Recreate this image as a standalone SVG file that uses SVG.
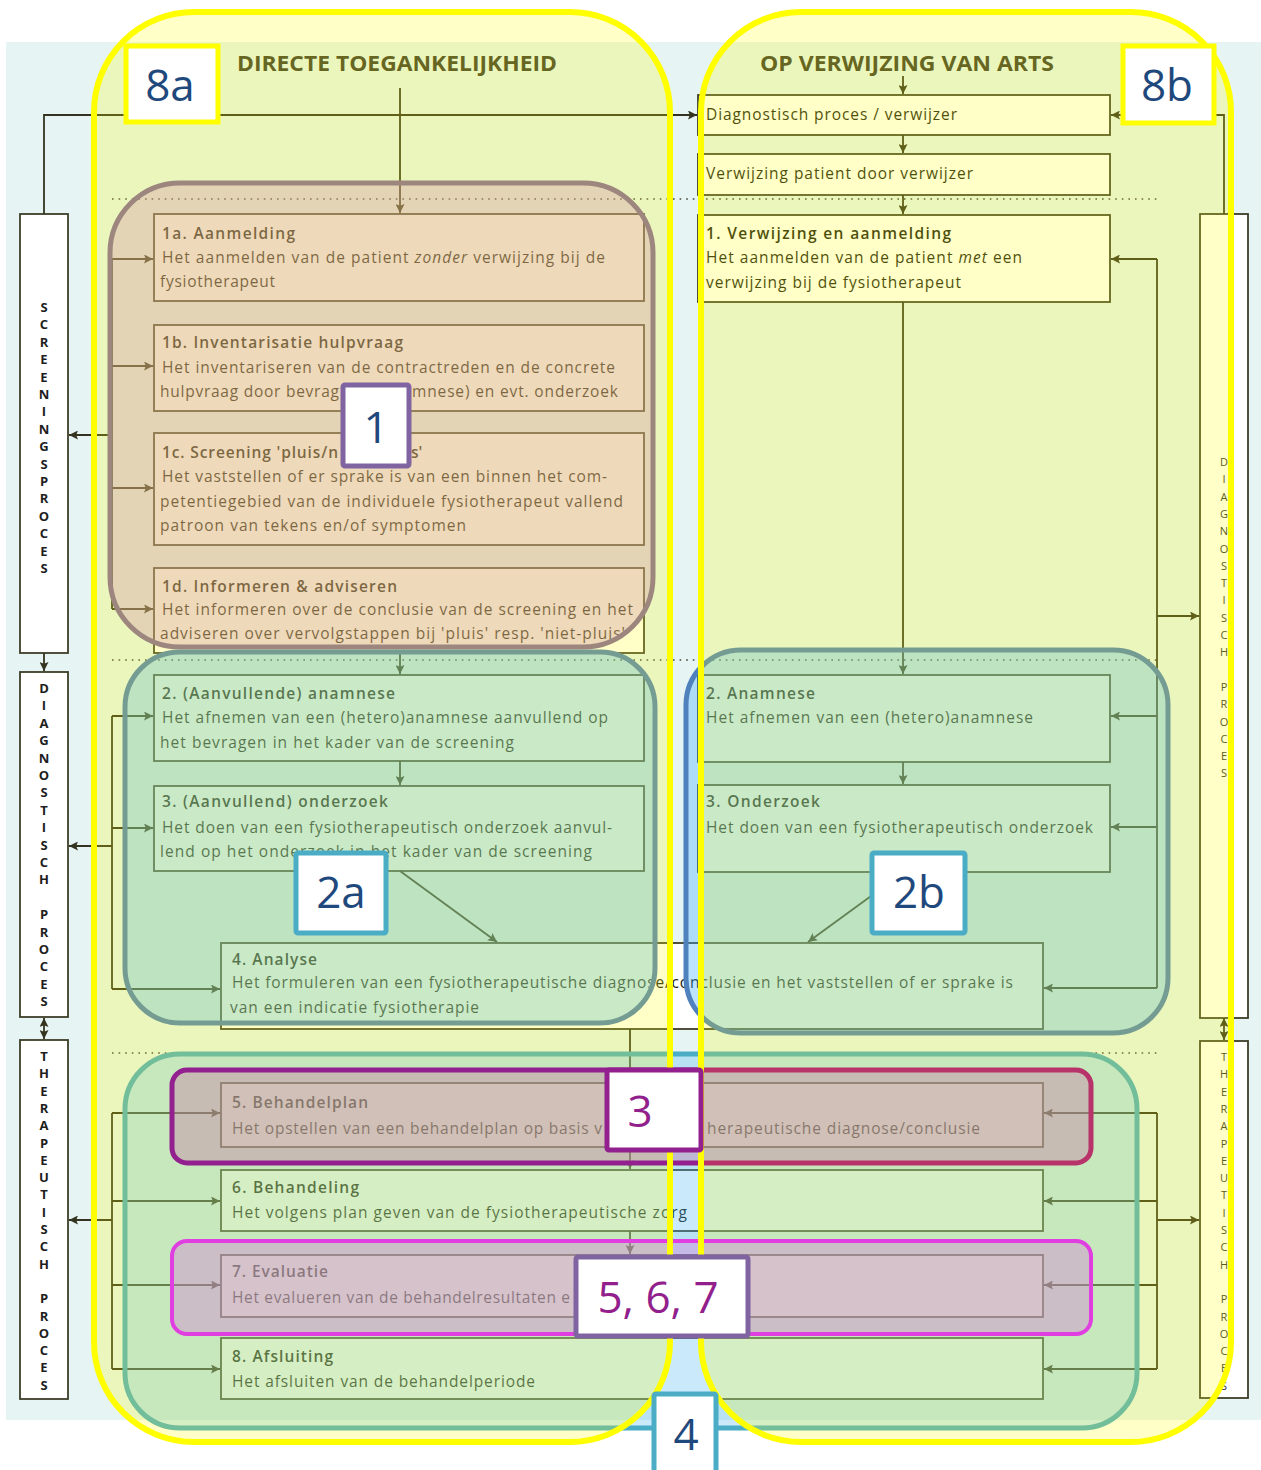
<svg xmlns="http://www.w3.org/2000/svg" width="1261" height="1470" viewBox="0 0 1261 1470">
<style>
.bx{fill:#fff;stroke:#3d3d28;stroke-width:1.8}
.t{font-family:'Open Sans','Liberation Sans',sans-serif;font-size:15.5px;fill:#1c1c12}
.tt{font-weight:600}
.hdr{font-family:'Open Sans','Liberation Sans',sans-serif;font-size:21px;font-weight:700;fill:#3c3c2c}
.vl{font-family:'Open Sans','Liberation Sans',sans-serif;font-size:13px;font-weight:700;fill:#1e1e1e;text-anchor:middle}
.vr{font-family:'Open Sans','Liberation Sans',sans-serif;font-size:11px;fill:#2e2e2e;text-anchor:middle}
.cn{stroke:#33331f;stroke-width:1.8;fill:none}
.dot{stroke:#44443a;stroke-width:1.6;stroke-dasharray:1.6 5;fill:none}
.lbl{font-family:'Open Sans','Liberation Sans',sans-serif;font-size:44px;text-anchor:middle}
.lb{fill:#fff;stroke-width:5}
</style>
<defs>
<marker id="ah" viewBox="0 0 10 10" refX="10" refY="5" markerWidth="9" markerHeight="9" markerUnits="userSpaceOnUse" orient="auto-start-reverse">
<path d="M0,0 L10,5 L0,10 L2,5 z" fill="#33331f"/>
</marker>
<linearGradient id="g3" gradientUnits="userSpaceOnUse" x1="172" y1="0" x2="1091" y2="0">
<stop offset="0" stop-color="#92208f"/><stop offset="0.575" stop-color="#92208f"/><stop offset="0.576" stop-color="#b8336a"/><stop offset="1" stop-color="#b8336a"/>
</linearGradient>
</defs>

<rect x="0" y="0" width="1261" height="1470" fill="#fff"/>
<rect x="6" y="42" width="1255" height="1378" fill="#e6f4f3"/>

<g id="headers">
<text class="hdr" x="237" y="71" textLength="320" lengthAdjust="spacingAndGlyphs">DIRECTE TOEGANKELIJKHEID</text>
<text class="hdr" x="760" y="71" textLength="294" lengthAdjust="spacingAndGlyphs">OP VERWIJZING VAN ARTS</text>
</g>

<g id="separators">
<line class="dot" x1="112" y1="199" x2="1160" y2="199"/>
<line class="dot" x1="112" y1="660" x2="1160" y2="660"/>
<line class="dot" x1="112" y1="1053" x2="1160" y2="1053"/>
</g>

<g id="phase-screening-left">
<rect class="bx" x="20" y="214" width="48" height="439"/>
<text class="vl"><tspan x="44" y="312">S</tspan><tspan x="44" y="329.4">C</tspan><tspan x="44" y="346.8">R</tspan><tspan x="44" y="364.2">E</tspan><tspan x="44" y="381.6">E</tspan><tspan x="44" y="399">N</tspan><tspan x="44" y="416.4">I</tspan><tspan x="44" y="433.8">N</tspan><tspan x="44" y="451.2">G</tspan><tspan x="44" y="468.6">S</tspan><tspan x="44" y="486">P</tspan><tspan x="44" y="503.4">R</tspan><tspan x="44" y="520.8">O</tspan><tspan x="44" y="538.2">C</tspan><tspan x="44" y="555.6">E</tspan><tspan x="44" y="573">S</tspan></text>
</g>
<g id="phase-diagnostisch-left">
<rect class="bx" x="20" y="672" width="48" height="345"/>
<text class="vl"><tspan x="44" y="693">D</tspan><tspan x="44" y="710.4">I</tspan><tspan x="44" y="727.8">A</tspan><tspan x="44" y="745.2">G</tspan><tspan x="44" y="762.6">N</tspan><tspan x="44" y="780">O</tspan><tspan x="44" y="797.4">S</tspan><tspan x="44" y="814.8">T</tspan><tspan x="44" y="832.2">I</tspan><tspan x="44" y="849.6">S</tspan><tspan x="44" y="867">C</tspan><tspan x="44" y="884.4">H</tspan><tspan x="44" y="919.2">P</tspan><tspan x="44" y="936.6">R</tspan><tspan x="44" y="954">O</tspan><tspan x="44" y="971.4">C</tspan><tspan x="44" y="988.8">E</tspan><tspan x="44" y="1006.2">S</tspan></text>
</g>
<g id="phase-therapeutisch-left">
<rect class="bx" x="20" y="1040" width="48" height="359"/>
<text class="vl"><tspan x="44" y="1061">T</tspan><tspan x="44" y="1078.3">H</tspan><tspan x="44" y="1095.6">E</tspan><tspan x="44" y="1112.9">R</tspan><tspan x="44" y="1130.2">A</tspan><tspan x="44" y="1147.5">P</tspan><tspan x="44" y="1164.8">E</tspan><tspan x="44" y="1182.1">U</tspan><tspan x="44" y="1199.4">T</tspan><tspan x="44" y="1216.7">I</tspan><tspan x="44" y="1234">S</tspan><tspan x="44" y="1251.3">C</tspan><tspan x="44" y="1268.6">H</tspan><tspan x="44" y="1303.2">P</tspan><tspan x="44" y="1320.5">R</tspan><tspan x="44" y="1337.8">O</tspan><tspan x="44" y="1355.1">C</tspan><tspan x="44" y="1372.4">E</tspan><tspan x="44" y="1389.7">S</tspan></text>
</g>
<g id="phase-diagnostisch-right">
<rect class="bx" x="1200" y="214" width="48" height="804"/>
<text class="vr"><tspan x="1224" y="466">D</tspan><tspan x="1224" y="483.3">I</tspan><tspan x="1224" y="500.6">A</tspan><tspan x="1224" y="517.9">G</tspan><tspan x="1224" y="535.2">N</tspan><tspan x="1224" y="552.5">O</tspan><tspan x="1224" y="569.8">S</tspan><tspan x="1224" y="587.1">T</tspan><tspan x="1224" y="604.4">I</tspan><tspan x="1224" y="621.7">S</tspan><tspan x="1224" y="639">C</tspan><tspan x="1224" y="656.3">H</tspan><tspan x="1224" y="690.9">P</tspan><tspan x="1224" y="708.2">R</tspan><tspan x="1224" y="725.5">O</tspan><tspan x="1224" y="742.8">C</tspan><tspan x="1224" y="760.1">E</tspan><tspan x="1224" y="777.4">S</tspan></text>
</g>
<g id="phase-therapeutisch-right">
<rect class="bx" x="1200" y="1041" width="48" height="357"/>
<text class="vr"><tspan x="1224" y="1061">T</tspan><tspan x="1224" y="1078.3">H</tspan><tspan x="1224" y="1095.6">E</tspan><tspan x="1224" y="1112.9">R</tspan><tspan x="1224" y="1130.2">A</tspan><tspan x="1224" y="1147.5">P</tspan><tspan x="1224" y="1164.8">E</tspan><tspan x="1224" y="1182.1">U</tspan><tspan x="1224" y="1199.4">T</tspan><tspan x="1224" y="1216.7">I</tspan><tspan x="1224" y="1234">S</tspan><tspan x="1224" y="1251.3">C</tspan><tspan x="1224" y="1268.6">H</tspan><tspan x="1224" y="1303.2">P</tspan><tspan x="1224" y="1320.5">R</tspan><tspan x="1224" y="1337.8">O</tspan><tspan x="1224" y="1355.1">C</tspan><tspan x="1224" y="1372.4">E</tspan><tspan x="1224" y="1389.7">S</tspan></text>
</g>

<g id="n-diagnostisch-proces">
<rect class="bx" x="698" y="95" width="412" height="40"/>
<text class="t" x="706" y="120" textLength="251">Diagnostisch proces / verwijzer</text>
</g>
<g id="n-verwijzing">
<rect class="bx" x="698" y="154" width="412" height="41"/>
<text class="t" x="706" y="179" textLength="267">Verwijzing patient door verwijzer</text>
</g>
<g id="n-1a">
<rect class="bx" x="154" y="214" width="490" height="87"/>
<text class="t tt" x="162" y="239" textLength="133">1a. Aanmelding</text>
<text class="t" x="162" y="263" textLength="443">Het aanmelden van de patient <tspan font-style="italic">zonder</tspan> verwijzing bij de</text>
<text class="t" x="160" y="287" textLength="115">fysiotherapeut</text>
</g>
<g id="n-1b">
<rect class="bx" x="154" y="325" width="490" height="86"/>
<text class="t tt" x="162" y="348" textLength="241">1b. Inventarisatie hulpvraag</text>
<text class="t" x="162" y="373" textLength="453">Het inventariseren van de contractreden en de concrete</text>
<text class="t" x="160" y="397" textLength="179">hulpvraag door bevrag</text>
<text class="t" x="412" y="397" textLength="206">mnese) en evt. onderzoek</text>
</g>
<g id="n-1c">
<rect class="bx" x="154" y="433" width="490" height="112"/>
<text class="t tt" x="162" y="458" textLength="176">1c. Screening 'pluis/n</text>
<text class="t tt" x="411" y="458">s'</text>
<text class="t" x="162" y="482" textLength="445">Het vaststellen of er sprake is van een binnen het com-</text>
<text class="t" x="160" y="507" textLength="463">petentiegebied van de individuele fysiotherapeut vallend</text>
<text class="t" x="160" y="531" textLength="306">patroon van tekens en/of symptomen</text>
</g>
<g id="n-1d">
<rect class="bx" x="154" y="568" width="490" height="85"/>
<text class="t tt" x="162" y="592" textLength="235">1d. Informeren &amp; adviseren</text>
<text class="t" x="162" y="615" textLength="471">Het informeren over de conclusie van de screening en het</text>
<text class="t" x="160" y="639" textLength="465">adviseren over vervolgstappen bij 'pluis' resp. 'niet-pluis'</text>
</g>
<g id="n-1-verwijzing">
<rect class="bx" x="698" y="215" width="412" height="87"/>
<text class="t tt" x="706" y="239" textLength="245">1. Verwijzing en aanmelding</text>
<text class="t" x="706" y="263" textLength="316">Het aanmelden van de patient <tspan font-style="italic">met</tspan> een</text>
<text class="t" x="706" y="288" textLength="255">verwijzing bij de fysiotherapeut</text>
</g>
<g id="n-2-left">
<rect class="bx" x="154" y="675" width="490" height="86"/>
<text class="t tt" x="162" y="699" textLength="233">2. (Aanvullende) anamnese</text>
<text class="t" x="162" y="723" textLength="446">Het afnemen van een (hetero)anamnese aanvullend op</text>
<text class="t" x="160" y="748" textLength="354">het bevragen in het kader van de screening</text>
</g>
<g id="n-3-left">
<rect class="bx" x="154" y="786" width="490" height="85"/>
<text class="t tt" x="162" y="807" textLength="226">3. (Aanvullend) onderzoek</text>
<text class="t" x="162" y="833" textLength="450">Het doen van een fysiotherapeutisch onderzoek aanvul-</text>
<text class="t" x="160" y="857" textLength="432">lend op het onderzoek in het kader van de screening</text>
</g>
<g id="n-2-right">
<rect class="bx" x="698" y="675" width="412" height="87"/>
<text class="t tt" x="706" y="699" textLength="109">2. Anamnese</text>
<text class="t" x="706" y="723" textLength="327">Het afnemen van een (hetero)anamnese</text>
</g>
<g id="n-3-right">
<rect class="bx" x="698" y="785" width="412" height="87"/>
<text class="t tt" x="706" y="807" textLength="114">3. Onderzoek</text>
<text class="t" x="706" y="833" textLength="387">Het doen van een fysiotherapeutisch onderzoek</text>
</g>
<g id="n-4">
<rect class="bx" x="221" y="943" width="822" height="86"/>
<text class="t tt" x="232" y="965" textLength="85">4. Analyse</text>
<text class="t" x="232" y="988" textLength="781">Het formuleren van een fysiotherapeutische diagnose/conclusie en het vaststellen of er sprake is</text>
<text class="t" x="230" y="1013" textLength="249">van een indicatie fysiotherapie</text>
</g>
<g id="n-5">
<rect class="bx" x="221" y="1083" width="822" height="64"/>
<text class="t tt" x="232" y="1108" textLength="136">5. Behandelplan</text>
<text class="t" x="232" y="1134" textLength="370">Het opstellen van een behandelplan op basis v</text>
<text class="t" x="707" y="1134" textLength="273">herapeutische diagnose/conclusie</text>
</g>
<g id="n-6">
<rect class="bx" x="221" y="1170" width="822" height="61"/>
<text class="t tt" x="232" y="1193" textLength="127">6. Behandeling</text>
<text class="t" x="232" y="1218" textLength="455">Het volgens plan geven van de fysiotherapeutische zorg</text>
</g>
<g id="n-7">
<rect class="bx" x="221" y="1255" width="822" height="62"/>
<text class="t tt" x="232" y="1277" textLength="96">7. Evaluatie</text>
<text class="t" x="232" y="1303" textLength="338">Het evalueren van de behandelresultaten e</text>
</g>
<g id="n-8">
<rect class="bx" x="221" y="1338" width="822" height="61"/>
<text class="t tt" x="232" y="1362" textLength="101">8. Afsluiting</text>
<text class="t" x="232" y="1387" textLength="303">Het afsluiten van de behandelperiode</text>
</g>

<g id="connectors" class="cn">
<path d="M44,214 V115 H697" marker-end="url(#ah)"/>
<path d="M400,88 V213" marker-end="url(#ah)"/>
<path d="M400,653 V674" marker-end="url(#ah)"/>
<path d="M400,761 V785" marker-end="url(#ah)"/>
<path d="M400,871 L497,942" marker-end="url(#ah)"/>
<path d="M630,1029 V1082" marker-end="url(#ah)"/>
<path d="M630,1147 V1169" marker-end="url(#ah)"/>
<path d="M630,1231 V1254" marker-end="url(#ah)"/>
<path d="M630,1317 V1337" marker-end="url(#ah)"/>
<path d="M112,259 V609"/>
<path d="M112,259 H153" marker-end="url(#ah)"/>
<path d="M112,366 H153" marker-end="url(#ah)"/>
<path d="M112,488 H153" marker-end="url(#ah)"/>
<path d="M112,609 H153" marker-end="url(#ah)"/>
<path d="M112,435 H69" marker-end="url(#ah)"/>
<path d="M112,716 V989"/>
<path d="M112,716 H153" marker-end="url(#ah)"/>
<path d="M112,828 H153" marker-end="url(#ah)"/>
<path d="M112,989 H220" marker-end="url(#ah)"/>
<path d="M112,846 H69" marker-end="url(#ah)"/>
<path d="M112,1113 V1369"/>
<path d="M112,1113 H220" marker-end="url(#ah)"/>
<path d="M112,1201 H220" marker-end="url(#ah)"/>
<path d="M112,1285 H220" marker-end="url(#ah)"/>
<path d="M112,1369 H220" marker-end="url(#ah)"/>
<path d="M112,1220 H69" marker-end="url(#ah)"/>
<path d="M44,653 V671" marker-end="url(#ah)"/>
<path d="M44,1018 V1039" marker-start="url(#ah)" marker-end="url(#ah)"/>
<path d="M1224,214 V115 H1111" marker-end="url(#ah)"/>
<path d="M903,76 V94" marker-end="url(#ah)"/>
<path d="M903,135 V153" marker-end="url(#ah)"/>
<path d="M903,195 V214" marker-end="url(#ah)"/>
<path d="M903,302 V674" marker-end="url(#ah)"/>
<path d="M903,762 V784" marker-end="url(#ah)"/>
<path d="M904,872 L808,942" marker-end="url(#ah)"/>
<path d="M1157,259 V988"/>
<path d="M1157,259 H1111" marker-end="url(#ah)"/>
<path d="M1157,716 H1111" marker-end="url(#ah)"/>
<path d="M1157,827 H1111" marker-end="url(#ah)"/>
<path d="M1157,988 H1044" marker-end="url(#ah)"/>
<path d="M1157,616 H1199" marker-end="url(#ah)"/>
<path d="M1157,1113 V1369"/>
<path d="M1157,1113 H1044" marker-end="url(#ah)"/>
<path d="M1157,1201 H1044" marker-end="url(#ah)"/>
<path d="M1157,1285 H1044" marker-end="url(#ah)"/>
<path d="M1157,1369 H1044" marker-end="url(#ah)"/>
<path d="M1157,1220 H1199" marker-end="url(#ah)"/>
<path d="M1224,1018 V1040" marker-start="url(#ah)" marker-end="url(#ah)"/>
</g>

<g id="overlay-regions-under">
<rect id="region-1" x="110" y="183" width="543" height="464" rx="70" fill="#c476d1" fill-opacity="0.35" stroke="#8064a2" stroke-width="5"/>
<rect id="region-2a" x="125" y="652" width="530" height="371" rx="55" fill="#40afff" fill-opacity="0.35" stroke="#4f81bd" stroke-width="5"/>
<rect id="region-2b" x="686" y="650" width="482" height="383" rx="55" fill="#40afff" fill-opacity="0.35" stroke="#4f81bd" stroke-width="5"/>
<rect id="region-4" x="125" y="1054" width="1012" height="374" rx="55" fill="#50b8f6" fill-opacity="0.3" stroke="#4bacc6" stroke-width="5"/>
</g>

<g id="yellow-fills" fill="#ffff00" fill-opacity="0.22">
<rect x="94" y="12" width="576" height="1430" rx="100"/>
<rect x="701" y="12" width="530" height="1430" rx="100"/>
</g>

<g id="overlay-regions-over">
<rect id="region-3" x="172" y="1070" width="919" height="93" rx="15" fill="#c87aa5" fill-opacity="0.4" stroke="url(#g3)" stroke-width="5"/>
<rect id="region-567" x="172" y="1241" width="919" height="93" rx="15" fill="#d47fd7" fill-opacity="0.4" stroke="#e03ee0" stroke-width="4"/>
</g>

<g id="yellow-strokes" fill="none" stroke="#ffff00" stroke-width="6">
<rect x="94" y="12" width="576" height="1430" rx="100"/>
<rect x="701" y="12" width="530" height="1430" rx="100"/>
</g>

<g id="labels">
<g id="label-8a"><rect class="lb" x="126" y="46" width="92" height="76" stroke="#ffff00"/><text class="lbl" x="170" y="101" fill="#1f497d">8a</text></g>
<g id="label-8b"><rect class="lb" x="1123" y="46" width="91" height="77" stroke="#ffff00"/><text class="lbl" x="1167" y="101" fill="#1f497d">8b</text></g>
<g id="label-1"><rect class="lb" x="343" y="385" width="66" height="81" rx="2" stroke="#8064a2" stroke-width="4"/><text class="lbl" x="376" y="443" fill="#1f497d">1</text></g>
<g id="label-2a"><rect class="lb" x="296" y="853" width="90" height="80" rx="2" stroke="#4bacc6"/><text class="lbl" x="341" y="908" fill="#1f497d">2a</text></g>
<g id="label-2b"><rect class="lb" x="872" y="853" width="93" height="80" rx="2" stroke="#4bacc6"/><text class="lbl" x="919" y="908" fill="#1f497d">2b</text></g>
<g id="label-3"><rect class="lb" x="607" y="1070" width="94" height="80" rx="2" stroke="#92208f"/><text class="lbl" x="640" y="1127" fill="#921f8c">3</text></g>
<g id="label-567"><rect class="lb" x="576" y="1257" width="172" height="79" rx="2" stroke="#8064a2"/><text class="lbl" x="658" y="1313" fill="#921f8c">5, 6, 7</text></g>
<g id="label-4"><rect class="lb" x="654" y="1394" width="62" height="90" rx="2" stroke="#4bacc6"/><text class="lbl" x="686" y="1450" fill="#1f497d">4</text></g>
</g>
</svg>
